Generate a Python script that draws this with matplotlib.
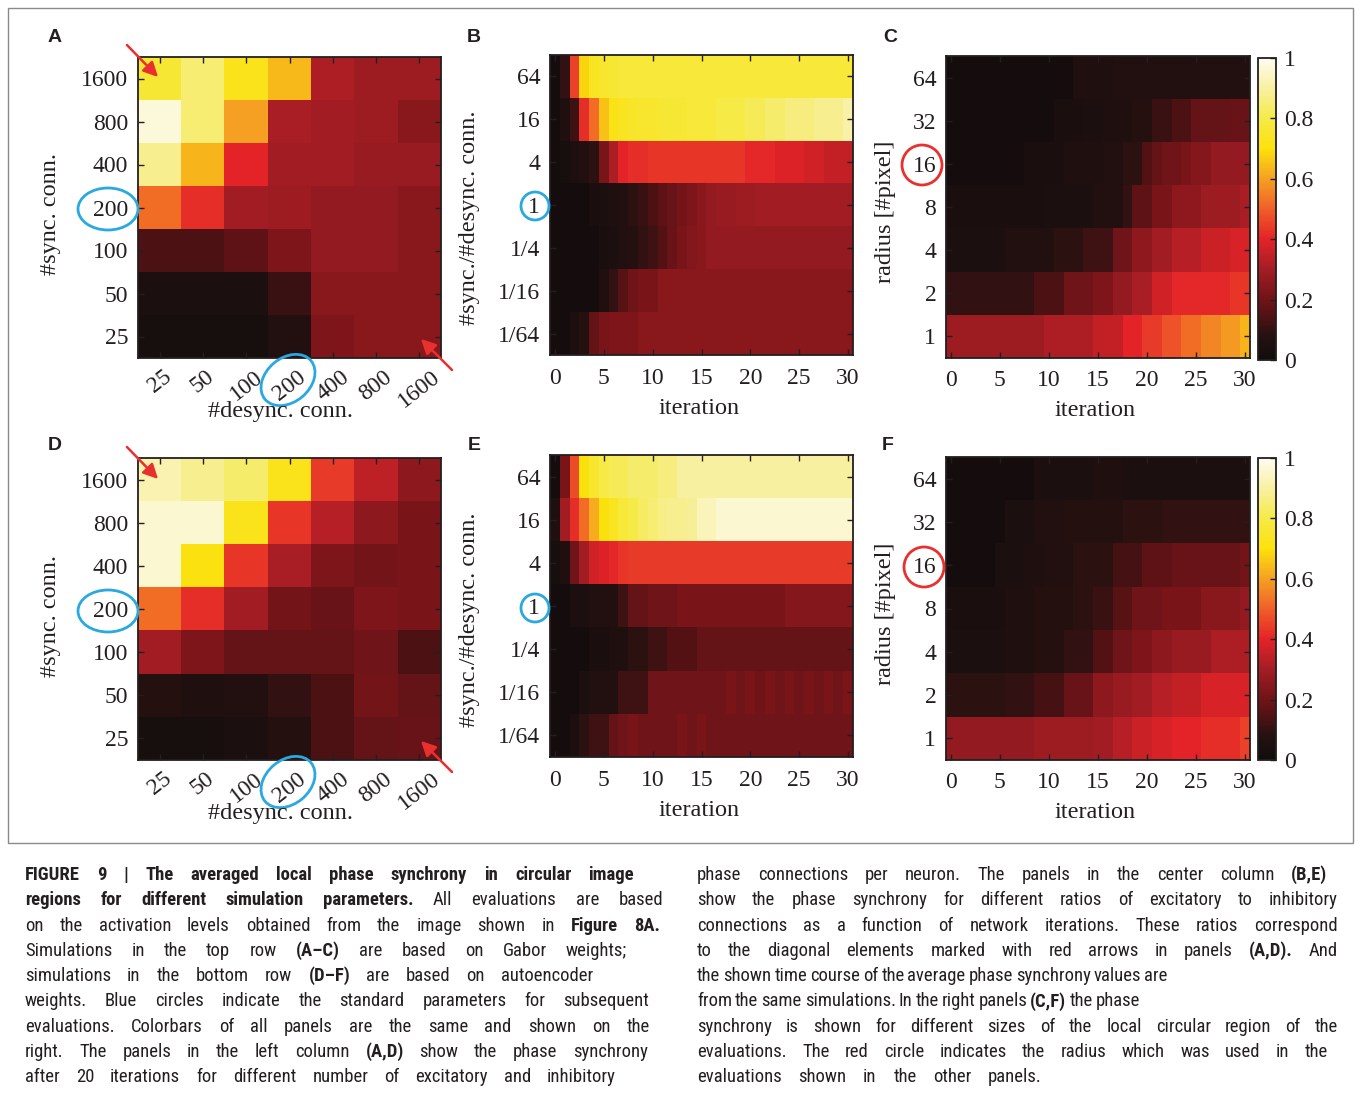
import numpy as np
import matplotlib
matplotlib.use("Agg")
import matplotlib.pyplot as plt
from matplotlib import font_manager
from matplotlib.font_manager import FontProperties
from matplotlib.colors import LinearSegmentedColormap
from matplotlib.patches import Ellipse, Rectangle, FancyArrowPatch
from matplotlib.transforms import IdentityTransform

W, H = 1355, 1093
plt.rcParams['font.family'] = ['Liberation Serif', 'DejaVu Serif']

# ---------------- data ----------------
conn_labels = ["25", "50", "100", "200", "400", "800", "1600"]
sync_labels_top_down = ["1600", "800", "400", "200", "100", "50", "25"]
ratio_labels = ["64", "16", "4", "1", "1/4", "1/16", "1/64"]
radius_labels = ["64", "32", "16", "8", "4", "2", "1"]
iter_ticks = [0, 5, 10, 15, 20, 25, 30]
cbar_ticks = [0, 0.2, 0.4, 0.6, 0.8, 1.0]

# Panel A (Gabor): rows #sync 1600..25 (top->bottom), cols #desync 25..1600
A_vals = [
    [0.77, 0.85, 0.73, 0.64, 0.32, 0.29, 0.29],
    [0.97, 0.85, 0.60, 0.31, 0.30, 0.29, 0.25],
    [0.88, 0.63, 0.40, 0.30, 0.30, 0.28, 0.28],
    [0.52, 0.42, 0.30, 0.29, 0.27, 0.27, 0.25],
    [0.14, 0.14, 0.17, 0.23, 0.27, 0.27, 0.25],
    [0.05, 0.05, 0.05, 0.11, 0.25, 0.25, 0.25],
    [0.03, 0.03, 0.03, 0.07, 0.23, 0.25, 0.25],
]
# Panel D (autoencoder)
D_vals = [
    [0.92, 0.88, 0.84, 0.73, 0.44, 0.34, 0.26],
    [0.96, 0.96, 0.73, 0.43, 0.33, 0.26, 0.22],
    [0.96, 0.71, 0.43, 0.31, 0.23, 0.21, 0.22],
    [0.52, 0.42, 0.30, 0.21, 0.19, 0.23, 0.22],
    [0.30, 0.23, 0.18, 0.18, 0.18, 0.20, 0.14],
    [0.08, 0.06, 0.07, 0.10, 0.14, 0.21, 0.18],
    [0.03, 0.03, 0.05, 0.08, 0.14, 0.18, 0.19],
]

# Panel B (Gabor), iterations 0..30, ratio rows 64 .. 1/64
B_r64 = [0.02, 0.10, 0.45, 0.68, 0.74, 0.76, 0.77, 0.78, 0.78, 0.78, 0.78, 0.78, 0.78, 0.78, 0.78, 0.78,
         0.78, 0.78, 0.78, 0.78, 0.78, 0.78, 0.78, 0.78, 0.78, 0.78, 0.78, 0.78, 0.78, 0.78, 0.78]
B_r16 = [0.02, 0.06, 0.12, 0.42, 0.52, 0.65, 0.72, 0.74, 0.75, 0.76, 0.76, 0.77, 0.77, 0.77, 0.78, 0.78,
         0.78, 0.80, 0.80, 0.80, 0.82, 0.82, 0.84, 0.84, 0.86, 0.86, 0.86, 0.88, 0.88, 0.88, 0.91]
B_r4 = [0.02, 0.03, 0.05, 0.07, 0.09, 0.22, 0.32, 0.40, 0.42, 0.42, 0.43, 0.43, 0.43, 0.43, 0.43, 0.43,
        0.43, 0.43, 0.43, 0.43, 0.41, 0.41, 0.41, 0.39, 0.39, 0.39, 0.37, 0.37, 0.35, 0.35, 0.35]
B_r1 = [0.02, 0.02, 0.02, 0.02, 0.04, 0.05, 0.06, 0.07, 0.09, 0.11, 0.14, 0.17, 0.19, 0.21, 0.23, 0.25,
        0.27, 0.28, 0.28, 0.29, 0.29, 0.30, 0.30, 0.30, 0.30, 0.30, 0.30, 0.30, 0.30, 0.30, 0.30]
B_r1_4 = [0.02, 0.02, 0.02, 0.02, 0.02, 0.04, 0.05, 0.07, 0.08, 0.10, 0.12, 0.15, 0.19, 0.22, 0.24, 0.25,
          0.27, 0.27, 0.27, 0.27, 0.27, 0.27, 0.27, 0.27, 0.27, 0.27, 0.27, 0.27, 0.27, 0.27, 0.27]
B_r1_16 = [0.02, 0.02, 0.02, 0.02, 0.02, 0.06, 0.10, 0.16, 0.20, 0.22, 0.22, 0.25, 0.25, 0.25, 0.25, 0.25,
           0.25, 0.25, 0.25, 0.25, 0.25, 0.25, 0.25, 0.25, 0.25, 0.25, 0.25, 0.25, 0.25, 0.25, 0.25]
B_r1_64 = [0.02, 0.02, 0.05, 0.08, 0.18, 0.22, 0.23, 0.23, 0.23, 0.25, 0.25, 0.25, 0.25, 0.25, 0.25, 0.25,
           0.25, 0.25, 0.25, 0.25, 0.25, 0.25, 0.25, 0.25, 0.25, 0.25, 0.25, 0.25, 0.25, 0.25, 0.25]

# Panel E (autoencoder)
E_r64 = [0.02, 0.22, 0.47, 0.70, 0.76, 0.80, 0.82, 0.82, 0.84, 0.84, 0.84, 0.86, 0.86, 0.90, 0.90, 0.90,
         0.90, 0.90, 0.90, 0.90, 0.90, 0.90, 0.90, 0.90, 0.90, 0.90, 0.90, 0.90, 0.90, 0.90, 0.90]
E_r16 = [0.06, 0.30, 0.42, 0.52, 0.62, 0.70, 0.74, 0.78, 0.80, 0.83, 0.85, 0.87, 0.88, 0.88, 0.89, 0.93,
         0.93, 0.96, 0.96, 0.96, 0.96, 0.96, 0.96, 0.96, 0.96, 0.96, 0.96, 0.96, 0.96, 0.96, 0.96]
E_r4 = [0.03, 0.06, 0.20, 0.30, 0.37, 0.39, 0.41, 0.43, 0.44, 0.44, 0.44, 0.44, 0.44, 0.44, 0.44, 0.44,
        0.44, 0.44, 0.44, 0.44, 0.44, 0.44, 0.44, 0.44, 0.44, 0.44, 0.44, 0.44, 0.44, 0.44, 0.44]
E_r1 = [0.02, 0.02, 0.05, 0.05, 0.07, 0.07, 0.07, 0.12, 0.18, 0.18, 0.20, 0.20, 0.20, 0.22, 0.22, 0.22,
        0.22, 0.22, 0.22, 0.22, 0.22, 0.22, 0.22, 0.22, 0.24, 0.24, 0.24, 0.24, 0.24, 0.24, 0.24]
E_r1_4 = [0.02, 0.02, 0.02, 0.02, 0.04, 0.04, 0.06, 0.06, 0.09, 0.09, 0.12, 0.12, 0.15, 0.15, 0.15, 0.18,
          0.18, 0.18, 0.18, 0.18, 0.18, 0.18, 0.18, 0.18, 0.18, 0.18, 0.18, 0.18, 0.18, 0.18, 0.18]
E_r1_16 = [0.02, 0.02, 0.02, 0.05, 0.07, 0.07, 0.07, 0.12, 0.12, 0.12, 0.20, 0.20, 0.20, 0.20, 0.20, 0.20,
           0.20, 0.20, 0.22, 0.20, 0.22, 0.20, 0.22, 0.20, 0.22, 0.20, 0.22, 0.20, 0.22, 0.20, 0.22]
E_r1_64 = [0.02, 0.02, 0.05, 0.09, 0.12, 0.12, 0.18, 0.20, 0.22, 0.20, 0.20, 0.20, 0.20, 0.22, 0.20, 0.22,
           0.20, 0.20, 0.20, 0.20, 0.20, 0.20, 0.20, 0.20, 0.20, 0.20, 0.20, 0.20, 0.20, 0.20, 0.20]

# Panel C (Gabor), radius rows 64 .. 1
C_r64 = [0.02, 0.02, 0.02, 0.02, 0.02, 0.02, 0.02, 0.02, 0.02, 0.02, 0.02, 0.02, 0.02, 0.06, 0.06, 0.06,
         0.06, 0.07, 0.07, 0.07, 0.07, 0.07, 0.07, 0.07, 0.07, 0.07, 0.07, 0.07, 0.07, 0.07, 0.07]
C_r32 = [0.02, 0.02, 0.02, 0.02, 0.02, 0.02, 0.02, 0.02, 0.02, 0.02, 0.02, 0.04, 0.04, 0.04, 0.05, 0.05,
         0.06, 0.06, 0.06, 0.08, 0.08, 0.11, 0.11, 0.14, 0.14, 0.18, 0.18, 0.18, 0.18, 0.19, 0.19]
C_r16 = [0.02, 0.02, 0.02, 0.02, 0.02, 0.02, 0.02, 0.02, 0.04, 0.04, 0.04, 0.04, 0.055, 0.055, 0.055, 0.055,
         0.07, 0.07, 0.09, 0.09, 0.15, 0.18, 0.20, 0.20, 0.22, 0.24, 0.24, 0.27, 0.27, 0.27, 0.27]
C_r8 = [0.04, 0.04, 0.04, 0.04, 0.04, 0.04, 0.04, 0.04, 0.04, 0.04, 0.05, 0.05, 0.05, 0.05, 0.05, 0.07,
        0.07, 0.07, 0.10, 0.17, 0.17, 0.22, 0.22, 0.26, 0.26, 0.26, 0.29, 0.29, 0.29, 0.29, 0.31]
C_r4 = [0.05, 0.05, 0.05, 0.05, 0.05, 0.05, 0.07, 0.07, 0.07, 0.07, 0.07, 0.09, 0.09, 0.09, 0.12, 0.12,
        0.12, 0.20, 0.20, 0.26, 0.26, 0.30, 0.30, 0.33, 0.33, 0.33, 0.36, 0.36, 0.36, 0.38, 0.38]
C_r2 = [0.10, 0.10, 0.10, 0.10, 0.10, 0.10, 0.10, 0.10, 0.10, 0.14, 0.14, 0.14, 0.20, 0.20, 0.20, 0.23,
        0.23, 0.27, 0.27, 0.31, 0.31, 0.37, 0.37, 0.41, 0.41, 0.41, 0.41, 0.41, 0.41, 0.43, 0.43]
C_r1 = [0.29, 0.29, 0.29, 0.29, 0.29, 0.29, 0.29, 0.29, 0.29, 0.29, 0.32, 0.32, 0.32, 0.32, 0.32, 0.35,
        0.35, 0.35, 0.40, 0.40, 0.44, 0.44, 0.48, 0.48, 0.52, 0.52, 0.56, 0.56, 0.59, 0.59, 0.63]

# Panel F (autoencoder)
F_r64 = [0.02, 0.02, 0.02, 0.02, 0.02, 0.02, 0.02, 0.02, 0.02, 0.05, 0.05, 0.05, 0.05, 0.05, 0.05, 0.06,
         0.06, 0.06, 0.05, 0.05, 0.05, 0.05, 0.05, 0.05, 0.05, 0.05, 0.05, 0.05, 0.05, 0.05, 0.05]
F_r32 = [0.02, 0.02, 0.02, 0.02, 0.02, 0.02, 0.05, 0.05, 0.05, 0.07, 0.07, 0.07, 0.08, 0.08, 0.08, 0.08,
         0.08, 0.08, 0.09, 0.09, 0.09, 0.09, 0.10, 0.10, 0.10, 0.10, 0.10, 0.10, 0.10, 0.10, 0.10]
F_r16 = [0.02, 0.02, 0.02, 0.02, 0.02, 0.05, 0.05, 0.05, 0.06, 0.06, 0.07, 0.07, 0.07, 0.09, 0.09, 0.09,
         0.09, 0.13, 0.13, 0.13, 0.17, 0.17, 0.17, 0.19, 0.19, 0.19, 0.19, 0.19, 0.19, 0.19, 0.21]
F_r8 = [0.04, 0.04, 0.04, 0.04, 0.04, 0.04, 0.06, 0.06, 0.06, 0.08, 0.08, 0.08, 0.08, 0.09, 0.09, 0.11,
        0.11, 0.16, 0.16, 0.20, 0.20, 0.20, 0.22, 0.22, 0.22, 0.22, 0.25, 0.25, 0.25, 0.25, 0.27]
F_r4 = [0.05, 0.05, 0.05, 0.05, 0.05, 0.05, 0.06, 0.06, 0.06, 0.08, 0.08, 0.08, 0.10, 0.10, 0.10, 0.15,
        0.15, 0.20, 0.20, 0.23, 0.23, 0.26, 0.26, 0.28, 0.28, 0.28, 0.28, 0.32, 0.32, 0.32, 0.32]
F_r2 = [0.09, 0.09, 0.09, 0.09, 0.09, 0.09, 0.10, 0.10, 0.10, 0.13, 0.13, 0.13, 0.19, 0.19, 0.19, 0.26,
        0.26, 0.28, 0.28, 0.30, 0.30, 0.33, 0.33, 0.35, 0.35, 0.35, 0.38, 0.38, 0.38, 0.38, 0.38]
F_r1 = [0.27, 0.27, 0.27, 0.27, 0.27, 0.27, 0.27, 0.27, 0.27, 0.29, 0.29, 0.29, 0.29, 0.29, 0.29, 0.30,
        0.30, 0.33, 0.33, 0.36, 0.36, 0.38, 0.38, 0.40, 0.40, 0.40, 0.42, 0.42, 0.42, 0.42, 0.45]

B_vals = [B_r64, B_r16, B_r4, B_r1, B_r1_4, B_r1_16, B_r1_64]
E_vals = [E_r64, E_r16, E_r4, E_r1, E_r1_4, E_r1_16, E_r1_64]
C_vals = [C_r64, C_r32, C_r16, C_r8, C_r4, C_r2, C_r1]
F_vals = [F_r64, F_r32, F_r16, F_r8, F_r4, F_r2, F_r1]

# ---------------- colormap (print-like "hot") ----------------
nodes = [
    (0.00, (16, 13, 13)), (0.08, (38, 17, 17)), (0.15, (84, 18, 20)), (0.22, (122, 21, 26)),
    (0.30, (162, 30, 36)), (0.40, (228, 35, 40)), (0.50, (240, 95, 40)), (0.60, (245, 160, 35)),
    (0.70, (252, 225, 10)), (0.80, (246, 234, 70)), (0.90, (248, 240, 160)), (1.00, (254, 252, 240)),
]
cmap = LinearSegmentedColormap.from_list("printhot", [(p, tuple(c / 255 for c in rgb)) for p, rgb in nodes])

fig = plt.figure(figsize=(W / 100, H / 100), dpi=100)
fig.patch.set_facecolor("white")

TXT = "#231f20"
TICK_FS = 17


def add_ax(x0, y0, x1, y1):
    return fig.add_axes([x0 / W, 1 - y1 / H, (x1 - x0) / W, (y1 - y0) / H])


def style_ax(ax):
    ax.tick_params(direction="in", length=4, width=1, top=True, right=True,
                   labelsize=TICK_FS, colors=TXT, pad=7)
    for s in ax.spines.values():
        s.set_linewidth(1.3)
        s.set_color("#231f20")


def figtext(x, y, s, **kw):
    return fig.text(x / W, 1 - y / H, s, **kw)


def grid_panel(box, vals):
    ax = add_ax(*box)
    ax.imshow(np.array(vals), cmap=cmap, vmin=0, vmax=1, aspect="auto", interpolation="nearest")
    ax.set_xticks(range(7))
    ax.set_xticklabels(conn_labels, rotation=38, ha="center", va="top")
    ax.set_yticks(range(7))
    ax.set_yticklabels(sync_labels_top_down)
    style_ax(ax)
    ax.tick_params(axis="x", pad=6)
    return ax


def time_panel(box, vals, ylabels):
    ax = add_ax(*box)
    arr = np.array(vals)
    ax.imshow(arr, cmap=cmap, vmin=0, vmax=1, aspect="auto", interpolation="nearest",
              extent=(-0.5, arr.shape[1] - 0.5, 6.5, -0.5))
    ax.set_xticks(iter_ticks)
    ax.set_xticklabels([str(t) for t in iter_ticks])
    ax.set_yticks(range(7))
    ax.set_yticklabels(ylabels)
    style_ax(ax)
    ax.tick_params(axis="x", pad=9)
    return ax


def cbar(box):
    cax = add_ax(*box)
    sm = plt.cm.ScalarMappable(cmap=cmap, norm=plt.Normalize(0, 1))
    cb = fig.colorbar(sm, cax=cax, ticks=cbar_ticks)
    cb.set_ticklabels(["0", "0.2", "0.4", "0.6", "0.8", "1"])
    cax.tick_params(direction="in", length=4, width=1, labelsize=TICK_FS, colors=TXT, pad=6)
    cb.outline.set_linewidth(1.3)
    cb.outline.set_edgecolor("#231f20")


# ---- top row ----
axA = grid_panel((138, 57, 441, 358), A_vals)
axB = time_panel((550, 55, 853, 355), B_vals, ratio_labels)
axC = time_panel((946, 56, 1250, 358), C_vals, radius_labels)
cbar((1258, 58, 1276, 360))
# ---- bottom row ----
axD = grid_panel((138, 458, 441, 760), D_vals)
axE = time_panel((550, 455, 853, 757), E_vals, ratio_labels)
axF = time_panel((946, 457, 1250, 760), F_vals, radius_labels)
cbar((1258, 458, 1276, 760))

# axis labels
lab_kw = dict(fontsize=TICK_FS + 0.5, color=TXT, ha="center", va="center")
for dy in (0, 402):
    figtext(51, 214 + dy, "#sync. conn.", rotation=90, **lab_kw)
    figtext(281, 411 + dy, "#desync. conn.", **lab_kw)
    figtext(470, 218 + dy, "#sync./#desync. conn.", rotation=90, **lab_kw)
    figtext(699, 408 + dy, "iteration", **lab_kw)
    figtext(886, 212 + dy, "radius [#pixel]", rotation=90, **lab_kw)
    figtext(1095, 410 + dy, "iteration", **lab_kw)

# panel letters
letter_kw = dict(fontsize=14, fontweight="bold", family=["Liberation Sans", "DejaVu Sans"],
                 color=TXT, ha="center", va="center")
for s, x, y in [("A", 55, 38), ("B", 474, 38), ("C", 890, 38),
                ("D", 55, 445), ("E", 474, 445), ("F", 888, 445)]:
    figtext(x, y, s, **letter_kw)

# circles & arrows (pixel coordinates)
ident = IdentityTransform()
BLUE = "#2aa8e0"
RED = "#e8312f"


def ellipse(cx, cy, w, h, color, angle=0):
    fig.add_artist(Ellipse((cx, H - cy), w, h, angle=angle, fill=False, edgecolor=color,
                           linewidth=2, transform=ident))


def arrow(x0, y0, x1, y1):
    fig.add_artist(FancyArrowPatch((x0, H - y0), (x1, H - y1), arrowstyle="-|>", mutation_scale=22,
                                   color=RED, linewidth=1.8, transform=ident))


for dy in (0, 402):
    ellipse(108, 209 + dy, 60, 42, BLUE)
    ellipse(288, 380 + dy, 60, 44, BLUE, angle=40)
    ellipse(535, 206 + dy, 28, 28, BLUE)
    arrow(125, 43 + dy, 160, 79 + dy)
    arrow(454, 372 + dy, 419, 337 + dy)
ellipse(922, 165, 40, 40, RED)
ellipse(924, 567, 40, 40, RED)

# frame around the figure part
fig.add_artist(Rectangle((8, H - 843), 1345, 835, fill=False, edgecolor="#8a8a8a",
                         linewidth=1, transform=ident))

# ---------------- caption (justified) ----------------
left_lines = [
    ([("FIGURE 9 | The averaged local phase synchrony in circular image", True)], 634),
    ([("regions for different simulation parameters.", True), ("All evaluations are based", False)], 663),
    ([("on the activation levels obtained from the image shown in", False), ("Figure 8A.", True)], 660),
    ([("Simulations in the top row", False), ("(A–C)", True), ("are based on Gabor weights;", False)], 627),
    ([("simulations in the bottom row", False), ("(D–F)", True), ("are based on autoencoder", False)], 593),
    ([("weights. Blue circles indicate the standard parameters for subsequent", False)], 649),
    ([("evaluations. Colorbars of all panels are the same and shown on the", False)], 650),
    ([("right. The panels in the left column", False), ("(A,D)", True), ("show the phase synchrony", False)], 648),
    ([("after 20 iterations for different number of excitatory and inhibitory", False)], 616),
]
right_lines = [
    ([("phase connections per neuron. The panels in the center column", False), ("(B,E)", True)], 1327),
    ([("show the phase synchrony for different ratios of excitatory to inhibitory", False)], 1338),
    ([("connections as a function of network iterations. These ratios correspond", False)], 1338),
    ([("to the diagonal elements marked with red arrows in panels", False), ("(A,D).", True), ("And", False)], 1338),
    ([("the shown time course of the average phase synchrony values are", False)], 1154),
    ([("from the same simulations. In the right panels", False), ("(C,F)", True), ("the phase", False)], 1130),
    ([("synchrony is shown for different sizes of the local circular region of the", False)], 1338),
    ([("evaluations. The red circle indicates the radius which was used in the", False)], 1328),
    ([("evaluations shown in the other panels.", False)], 1042),
]

# --- pick a condensed sans font if one is installed ---
def is_cond(f):
    n = f.name
    st = str(f.stretch)
    return (("Narrow" in n or "Condensed" in n or st in ("condensed", "semi-condensed", "extra-condensed")
             or (st.isdigit() and int(st) < 500))
            and "Serif" not in n and "Mono" not in n and f.style == "normal")


def wnum(f):
    w = f.weight
    if isinstance(w, str):
        return {"normal": 400, "regular": 400, "book": 400, "bold": 700, "medium": 500,
                "light": 300, "semibold": 600, "demibold": 600, "heavy": 800, "black": 900}.get(w, 400)
    return int(w)


pref = ["Liberation Sans Narrow", "Roboto Condensed", "Open Sans Condensed", "Noto Sans", "DejaVu Sans",
        "Open Sans", "Roboto", "Inter", "Lato"]
cond = [f for f in font_manager.fontManager.ttflist if is_cond(f)]
reg_font, bold_font = None, None
for p in pref:
    fam = [f for f in cond if f.name.startswith(p)]
    regs = [f for f in fam if wnum(f) == 400]
    bolds = [f for f in fam if wnum(f) == 700]
    if regs:
        reg_font = regs[0].fname
        bold_font = bolds[0].fname if bolds else None
        break

renderer = fig.canvas.get_renderer()


def make_props(bold, size):
    if reg_font is not None:
        fn = bold_font if (bold and bold_font) else reg_font
        fp = FontProperties(fname=fn, size=size)
        if bold and not bold_font:
            fp.set_weight("bold")
        return fp
    return FontProperties(family=["Liberation Sans", "DejaVu Sans"], size=size,
                          weight="bold" if bold else "normal")


# calibrate size on an unjustified line of the original (right col, line 5: 697 -> 1154)
probe = figtext(697, 880, "the shown time course of the average phase synchrony values are",
                fontproperties=make_props(False, 13))
pw = probe.get_window_extent(renderer=renderer).width
probe.remove()
CAP_FS = min(13.8, 13 * 1.05 * (1154 - 697) / pw)


def draw_line(x0, base_y, x_end, segments):
    words = []
    for text, bold in segments:
        for w in text.split(" "):
            if w:
                words.append((w, bold))
    items = []
    total = 0.0
    for w, bold in words:
        t = figtext(x0, base_y, w, fontproperties=make_props(bold, CAP_FS),
                    color=TXT, ha="left", va="baseline")
        wd = t.get_window_extent(renderer=renderer).width
        items.append((t, wd))
        total += wd
    n = len(items)
    gap = (x_end - x0 - total) / (n - 1) if n > 1 else 0
    gap = max(gap, 3.0)
    x = x0
    for t, wd in items:
        t.set_x(x / W)
        x += wd + gap


for i, (segs, xe) in enumerate(left_lines):
    draw_line(25, 880 + i * 25.3, xe, segs)
for i, (segs, xe) in enumerate(right_lines):
    draw_line(697, 880 + i * 25.3, xe, segs)

fig.savefig("out.png", dpi=100)
